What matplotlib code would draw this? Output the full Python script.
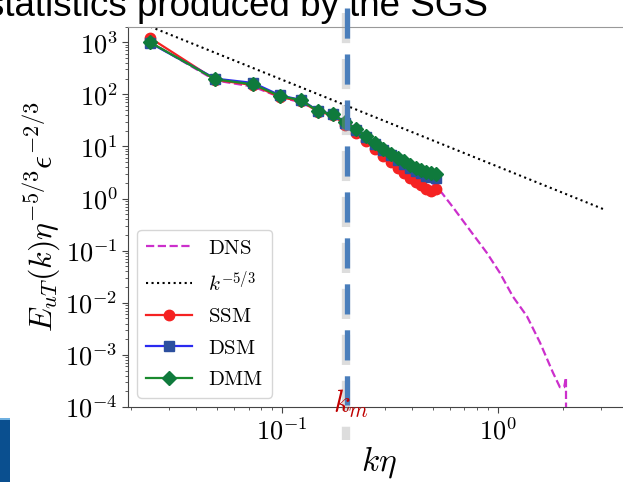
import math
import matplotlib
matplotlib.use("Agg")
import matplotlib.pyplot as plt
from matplotlib.lines import Line2D
from matplotlib.patches import Rectangle
from matplotlib.ticker import FuncFormatter, LogLocator, NullFormatter

plt.rcParams['mathtext.fontset'] = 'cm'
plt.rcParams['font.family'] = 'serif'
plt.rcParams['font.serif'] = ['DejaVu Serif']

# ---------------- data ----------------
k_les = [0.0245, 0.049, 0.0735, 0.098, 0.1225, 0.147, 0.1715, 0.196, 0.2205, 0.245,
         0.2695, 0.294, 0.3185, 0.343, 0.3675, 0.392, 0.4165, 0.441, 0.4655, 0.49, 0.5145]
E_ssm = [1200, 190, 150, 88, 74, 46, 40, 26, 18, 12.5,
         9.0, 6.6, 5.1, 3.9, 3.1, 2.5, 2.05, 1.8, 1.5, 1.42, 1.55]
E_dsm = [960, 200, 165, 95, 78, 48, 42, 28.5, 20.5, 15,
         11, 8.4, 6.7, 5.5, 4.7, 3.9, 3.4, 3.05, 2.75, 2.6, 2.5]
E_dmm = [990, 194, 155, 92, 77, 47, 41.5, 29, 21.4, 15.7,
         11.6, 8.9, 7.1, 6.0, 5.2, 4.4, 3.85, 3.5, 3.2, 3.1, 2.95]

k_dns = [0.0245, 0.049, 0.0735, 0.098, 0.1225, 0.147, 0.1715, 0.196, 0.2205, 0.245,
         0.2695, 0.294, 0.3185, 0.343, 0.3675, 0.392, 0.4165, 0.441, 0.4655, 0.49,
         0.537, 0.618, 0.741, 0.889, 1.02, 1.174, 1.365, 1.568, 1.80, 1.94, 2.03, 2.07, 2.075]
E_dns = [1000, 185, 140, 88, 70, 48, 40, 30, 22, 16,
         12, 9.3, 7.3, 5.9, 4.8, 4.0, 3.4, 2.9, 2.45, 2.1,
         1.46, 0.69, 0.25, 0.091, 0.038, 0.0132, 0.0055, 0.00173, 4.6e-4, 2.4e-4, 2.4e-4, 3.7e-4, 1e-6]

k_ref = [0.0245, 3.15]
E_ref = [1985, 0.605]

labels = [r'$\mathrm{DNS}$', r'$k^{-5/3}$', r'$\mathrm{SSM}$', r'$\mathrm{DSM}$', r'$\mathrm{DMM}$']
title_text = "statistics produced by the SGS"

# ---------------- figure ----------------
W, H = 623, 482
fig = plt.figure(figsize=(W / 100, H / 100), dpi=100)
ax = fig.add_axes([128 / W, 1 - 407 / H, (630 - 128) / W, (407 - 26.5) / H])

ax.plot(k_dns, E_dns, '--', color='#cc2fcc', lw=1.6, label=labels[0])
ax.plot(k_ref, E_ref, ':', color='black', lw=1.5, label=labels[1])
ax.plot(k_les, E_ssm, '-o', color='#f52222', lw=1.6, ms=7.5, label=labels[2])
ax.plot(k_les, E_dsm, '-s', color='#2a2af0', mfc='#2c4f9e', mec='#2c4f9e', lw=1.6, ms=7, label=labels[3])
ax.plot(k_les, E_dmm, '-D', color='#1a8a2e', mfc='#0f7a3c', mec='#0f7a3c', lw=1.6, ms=7, label=labels[4])

ax.set_xscale('log')
ax.set_yscale('log')
ax.set_xlim(0.0193, 4.1)
ax.set_ylim(1e-4, 2e3)

fmt = FuncFormatter(lambda v, p: r'$\mathrm{10}^{%d}$' % round(math.log10(v)))
ax.xaxis.set_major_formatter(fmt)
ax.yaxis.set_major_formatter(fmt)
ax.yaxis.set_major_locator(LogLocator(base=10, numticks=20))
ax.yaxis.set_minor_locator(LogLocator(base=10, subs=range(2, 10), numticks=20))
ax.xaxis.set_minor_formatter(NullFormatter())
ax.yaxis.set_minor_formatter(NullFormatter())
ax.tick_params(axis='both', which='major', labelsize=19, length=4, color='#444')
ax.tick_params(axis='both', which='minor', length=2, color='#444')

for s in ['left', 'bottom']:
    ax.spines[s].set_color('#444')
ax.spines['top'].set_color('#999')
ax.spines['right'].set_color('#999')

ax.set_xlabel(r'$k\eta$', fontsize=24, labelpad=0)
ax.set_ylabel(r'$E_{uT}(k)\eta^{-5/3}\epsilon^{-2/3}$', fontsize=23, labelpad=2)

leg = ax.legend(loc='lower left', fontsize=15, handlelength=2.2, labelspacing=0.6,
                borderaxespad=0.45, frameon=True)

# k_m label
fig.text(351 / W, 1 - 413 / H, r'$k_m$', color='#c00000', fontsize=22, ha='center', va='baseline')

# vertical dashed marker line (slide overlay)
xl = 346.5 / W
on_pt, off_pt = 21.7, 11.4
sh_lw = 6.0
shadow = Line2D([xl - 1 / W, xl - 1 / W], [1 - 13 / H, 1 - 440 / H], transform=fig.transFigure,
                color='#a0a0a0', alpha=0.35, lw=sh_lw,
                linestyle=(0, (on_pt / sh_lw, off_pt / sh_lw)))
fig.add_artist(shadow)
bl_lw = 3.8
vline = Line2D([xl, xl], [1 - 8 / H, 1 - 405 / H], transform=fig.transFigure,
               color='#4a7ebb', lw=bl_lw, linestyle=(0, (on_pt / bl_lw, off_pt / bl_lw)))
fig.add_artist(vline)

# slide title fragment
fig.text(-14 / W, 1 - 16 / H, title_text, fontsize=26.5, family='Liberation Sans',
         color='black', ha='left', va='baseline')

# slide decoration
fig.add_artist(Rectangle((0, 0), 10 / W, (482 - 418) / H, transform=fig.transFigure,
                         facecolor='#0a4f8f', edgecolor='none'))
fig.add_artist(Rectangle((0, (482 - 420) / H), 10 / W, 2 / H, transform=fig.transFigure,
                         facecolor='#6fb0e0', edgecolor='none'))

fig.savefig('out.png', dpi=100)
